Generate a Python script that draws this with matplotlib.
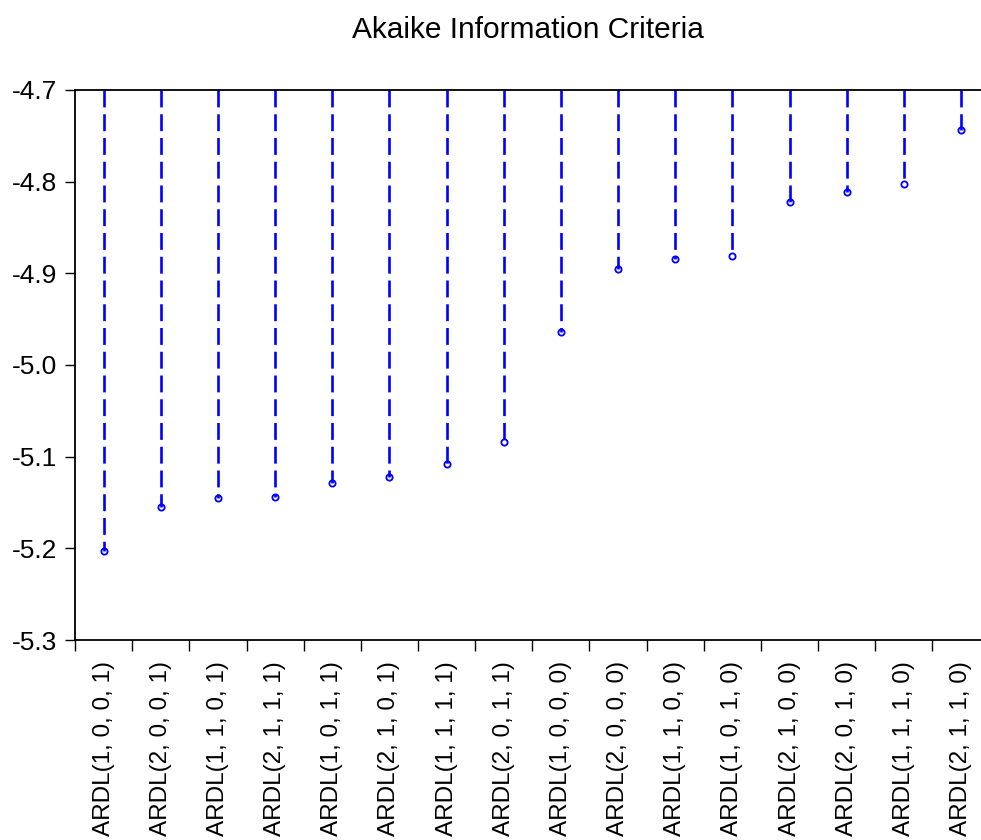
import numpy as np
import matplotlib.pyplot as plt

plt.rcParams['font.family'] = ['Liberation Sans', 'DejaVu Sans']

# AIC for the top 16 ARDL specifications
models = ['ARDL(1, 0, 0, 1)', 'ARDL(2, 0, 0, 1)', 'ARDL(1, 1, 0, 1)', 'ARDL(2, 1, 1, 1)',
          'ARDL(1, 0, 1, 1)', 'ARDL(2, 1, 0, 1)', 'ARDL(1, 1, 1, 1)', 'ARDL(2, 0, 1, 1)',
          'ARDL(1, 0, 0, 0)', 'ARDL(2, 0, 0, 0)', 'ARDL(1, 1, 0, 0)', 'ARDL(1, 0, 1, 0)',
          'ARDL(2, 1, 0, 0)', 'ARDL(2, 0, 1, 0)', 'ARDL(1, 1, 1, 0)', 'ARDL(2, 1, 1, 0)']
aic = [-5.203, -5.155, -5.145, -5.144, -5.129, -5.122, -5.108, -5.084,
       -4.964, -4.895, -4.884, -4.881, -4.822, -4.811, -4.803, -4.744]
yticks = [-4.7, -4.8, -4.9, -5.0, -5.1, -5.2, -5.3]
ytop, ybot = -4.7, -5.3

fig = plt.figure(figsize=(9.81, 8.4), dpi=100)
ax = fig.add_axes([0.0765, 0.238, 0.9235, 0.655])

x = np.arange(len(models))
# dashed drop lines from the top of the axis down to each value
for xi, v in zip(x, aic):
    line, = ax.plot([xi, xi], [ytop, v], color='#0000ff', lw=1.9)
    line.set_dashes((6.4, 2.6))
ax.plot(x, aic, 'o', ms=4.5, mfc='none', mec='#0000ff', mew=1.3)

ax.set_ylim(ybot, ytop)
ax.set_xlim(-0.45, 15.35)
ax.set_yticks(yticks)
ax.set_yticklabels(['%.1f' % t for t in yticks])
ax.set_xticks(x)
ax.set_xticklabels(models, rotation=90, va='top')
ax.set_xticks(np.arange(len(models)) - 0.5, minor=True)
ax.tick_params(axis='x', which='major', length=0, pad=15, labelsize=17.5)
ax.tick_params(axis='x', which='minor', length=8, width=1, direction='out')
ax.tick_params(axis='y', length=7, width=1, direction='out', labelsize=19, pad=6)

ax.spines['right'].set_visible(False)
for s in ['left', 'top', 'bottom']:
    ax.spines[s].set_linewidth(1.3)

ax.set_title('Akaike Information Criteria', fontsize=21.5, pad=37)

fig.savefig('out.png', dpi=100)
